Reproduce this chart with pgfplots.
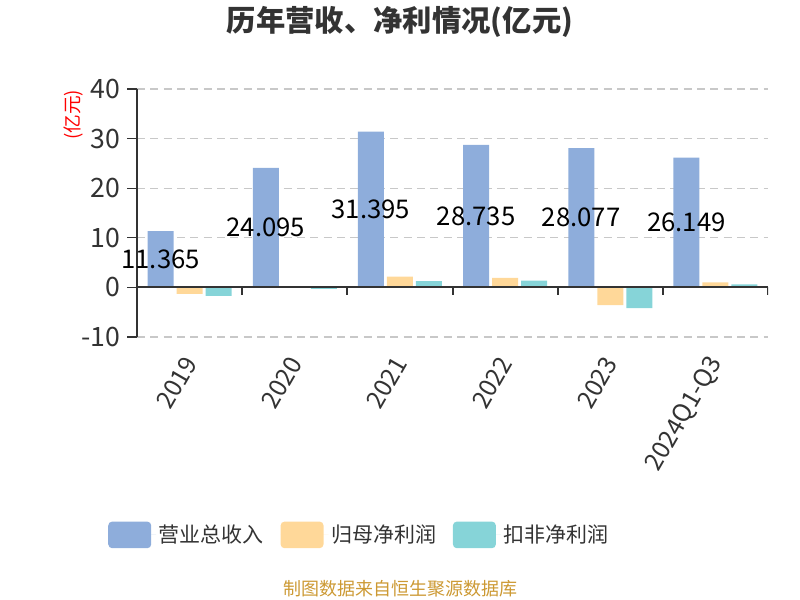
\documentclass[border=0pt]{standalone}
\usepackage{pgfplots}
\pgfplotsset{compat=1.18}
\usepackage{fontspec}
\setmainfont{Noto Sans CJK SC}
\definecolor{cBlue}{RGB}{142,173,219}
\definecolor{cOrange}{RGB}{255,216,153}
\definecolor{cTeal}{RGB}{134,212,216}
\definecolor{txt}{RGB}{51,51,51}
\definecolor{src}{RGB}{204,153,51}
\definecolor{gridc}{RGB}{200,200,200}
\begin{document}
\begin{tikzpicture}
\path[use as bounding box] (0,0) rectangle (600pt,450pt);
\begin{axis}[
  at={(102.75pt,197.25pt)}, anchor=south west,
  scale only axis, width=473.25pt, height=186pt,
  xmin=-0.5, xmax=5.5, ymin=-10, ymax=40,
  axis y line*=left, axis x line*=bottom,
  x axis line style={draw=none},
  y axis line style={draw=txt, line width=1.2pt},
  xtick={0,1,2,3,4,5},
  xticklabels={2019,2020,2021,2022,2023,2024Q1-Q3},
  x tick style={draw=none},
  ytick={-10,0,10,20,30,40},
  y tick style={draw=txt, line width=1pt},
  tick align=outside, major tick length=7.5pt,
  ymajorgrids,
  major grid style={gridc, dash pattern=on 6pt off 4pt, line width=0.8pt},
  /pgf/number format/assume math mode=true,
  yticklabel style={font=\fontsize{20pt}{24pt}\selectfont, text=txt, xshift=-1.5pt},
  xticklabel style={font=\fontsize{18.5pt}{22pt}\selectfont, text=txt, rotate=60, anchor=east, yshift=-5pt, xshift=-4pt},
  legend style={at={(0.353,-0.798)}, anchor=center, draw=none, fill=none,
    font=\fontsize{15.75pt}{18pt}\selectfont, text=txt,
    /tikz/every even column/.append style={column sep=10.5pt}},
  legend columns=3, legend cell align=left,
  legend image code/.code={\fill[#1, rounded corners=3pt] (0pt,-10pt) rectangle (32.25pt,10pt); \path (0pt,0pt) -- (36pt,0pt);},
]
\addplot[ybar, bar width=19.5pt, bar shift=-21.75pt, fill=cBlue, draw=none] coordinates {
  (0,11.365) (1,24.095) (2,31.395) (3,28.735) (4,28.077) (5,26.149)};
\addlegendentry{营业总收入}
\addplot[ybar, bar width=19.5pt, bar shift=0pt, fill=cOrange, draw=none] coordinates {
  (0,-1.33) (1,-0.05) (2,2.15) (3,1.9) (4,-3.55) (5,1.0)};
\addlegendentry{归母净利润}
\addplot[ybar, bar width=19.5pt, bar shift=21.75pt, fill=cTeal, draw=none] coordinates {
  (0,-1.7) (1,-0.3) (2,1.28) (3,1.35) (4,-4.2) (5,0.6)};
\addlegendentry{扣非净利润}
\draw[txt, line width=1.5pt] (axis cs:-0.5,0) -- (axis cs:5.5,0);
\pgfplotsinvokeforeach{-0.5,0.5,1.5,2.5,3.5,4.5,5.5}{
  \draw[txt, line width=1.5pt] (axis cs:#1,0) -- ([yshift=-6pt]axis cs:#1,0);
}
\addplot[draw=none, mark=none, forget plot, nodes near coords, point meta=explicit symbolic,
  nodes near coords align={center},
  every node near coord/.append style={anchor=center, xshift=-21.75pt, text=black, font=\fontsize{19.3pt}{23pt}\selectfont}]
  coordinates {
  (0,5.6825) [11.365] (1,12.0475) [24.095] (2,15.6975) [31.395]
  (3,14.3675) [28.735] (4,14.0385) [28.077] (5,13.0745) [26.149]};
\end{axis}
\node[font=\fontsize{22pt}{26pt}\selectfont\bfseries, text=txt] at (300pt,433.5pt) {历年营收、净利情况(亿元)};
\node[font=\fontsize{14pt}{16pt}\selectfont, text=red, rotate=90] at (55.5pt,363.75pt) {(亿元)};
\node[font=\fontsize{13.5pt}{16pt}\selectfont, text=src] at (300pt,8.25pt) {制图数据来自恒生聚源数据库};
\end{tikzpicture}
\end{document}
